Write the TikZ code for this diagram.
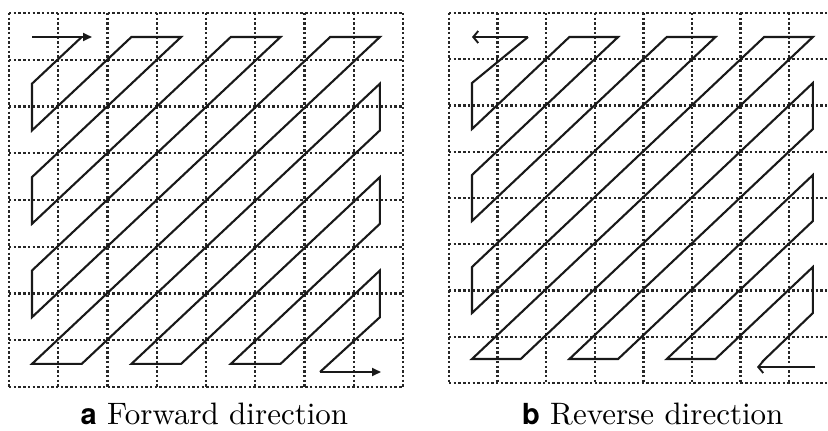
\documentclass[tikz,border=0pt]{standalone}
\usepackage{fontspec}
\newfontfamily\hvfont{TeX Gyre Heros}
\newfontfamily\lmten[Extension=.otf]{lmroman10-regular}
\usetikzlibrary{arrows.meta}
\begin{document}
\begin{tikzpicture}[x=1pt,y=-1pt,
  gridline/.style={draw=black!85, line width=2.4pt, dash pattern=on 2.4pt off 2.3pt},
  zig/.style={draw=black!90, line width=2.1pt, line join=miter},
  fwdarrow/.style={draw=black!90, line width=2.1pt, -{Triangle[length=9pt,width=8pt]}},
  revarrow/.style={draw=black!90, line width=2.1pt, -{Straight Barb[length=5pt,width=12pt,line width=1.9pt]}},
  captext/.style={font=\lmten\fontsize{31}{34}\selectfont, anchor=base west, inner sep=0pt},
  caplabel/.style={font=\hvfont\bfseries\fontsize{29}{34}\selectfont, anchor=base east, inner sep=0pt}]
\clip (0,0) rectangle (828,431);
\fill[white] (0,0) rectangle (828,431);
% ---------- grids ----------
\foreach \k in {0,...,8} {
  \draw[gridline] ({9+49.25*\k},13) -- ({9+49.25*\k},387);
  \draw[gridline] (9,{13+46.75*\k}) -- (403,{13+46.75*\k});
  \draw[gridline] ({449+48.6*\k},13) -- ({449+48.6*\k},383);
  \draw[gridline] (449,{13+46.25*\k}) -- (840,{13+46.25*\k});
}
% ---------- scan points ----------
\foreach \i in {0,...,7} {
  \foreach \j in {0,...,7} {
    \coordinate (L\i\j) at ({32+49.7*\i},{37+46.7*\j});
    \coordinate (R\i\j) at ({472+48.7*\i},{37+46*\j});
  }
}
% ---------- forward ----------
\coordinate (Lhead) at (92,37);
\coordinate (Lend) at (320,372);
\coordinate (Ltip) at (381,372);
\draw[fwdarrow] (L00) -- (Lhead);
\draw[zig] (L10) -- (L01) -- (L02) -- (L20) -- (L30) -- (L03) -- (L04) -- (L40) -- (L50)
  -- (L05) -- (L06) -- (L60) -- (L70) -- (L07) -- (L17) -- (L71) -- (L72) -- (L27)
  -- (L37) -- (L73) -- (L74) -- (L47) -- (L57) -- (L75) -- (L76) -- (Lend);
\draw[fwdarrow] (Lend) -- (Ltip);
% ---------- reverse ----------
\coordinate (Rstart) at (528,37);
\coordinate (Rtip) at (472,37);
\coordinate (Rend) at (762,362);
\coordinate (Rtail) at (815,367);
\coordinate (Rhead) at (757,367);
\draw[revarrow] (Rstart) -- (Rtip);
\draw[zig] (Rstart) -- (R01) -- (R02) -- (R20) -- (R30) -- (R03) -- (R04) -- (R40) -- (R50)
  -- (R05) -- (R06) -- (R60) -- (R70) -- (R07) -- (R17) -- (R71) -- (R72) -- (R27)
  -- (R37) -- (R73) -- (R74) -- (R47) -- (R57) -- (R75) -- (R76) -- (Rend);
\draw[revarrow] (Rtail) -- (Rhead);
% ---------- captions ----------
\node[caplabel] (la) at (97,424) {a};
\node[captext] (ca) at (107,424) {Forward direction};
\node[caplabel] (lb) at (540,424) {b};
\node[captext] (cb) at (550,424) {Reverse direction};
\end{tikzpicture}
\end{document}
